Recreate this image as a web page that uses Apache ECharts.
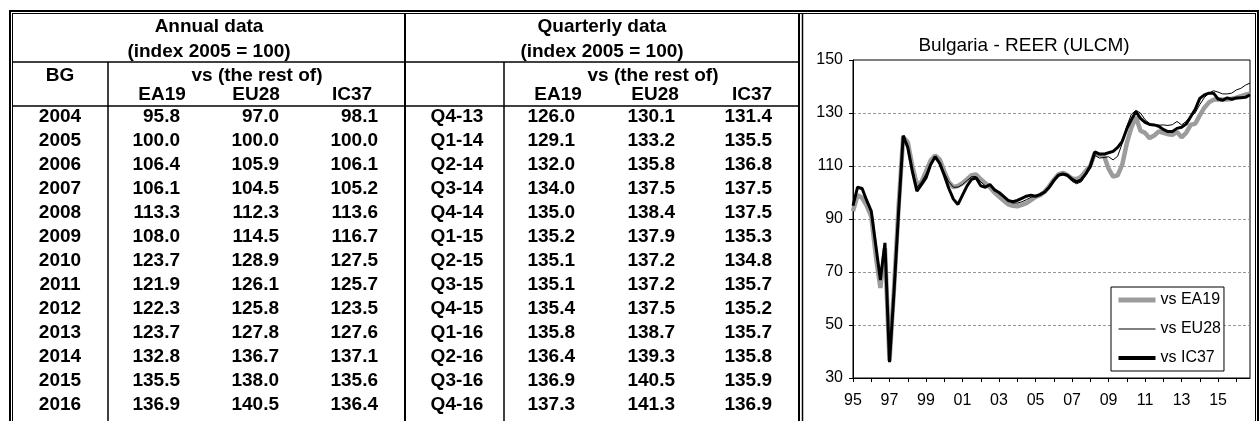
<!DOCTYPE html>
<html>
<head>
<meta charset="utf-8">
<script src="https://cdn.jsdelivr.net/npm/echarts@6/dist/echarts.min.js"></script>
<style>
  html, body { margin: 0; padding: 0; background: #fff; }
  #main { width: 1259px; height: 421px; }
</style>
</head>
<body>
<div id="main"></div>
<script>
// table: annual data (index 2005 = 100)
const annualYears = ['2004', '2005', '2006', '2007', '2008', '2009', '2010', '2011', '2012', '2013', '2014', '2015', '2016'];
const annualEA19 = [95.8, 100.0, 106.4, 106.1, 113.3, 108.0, 123.7, 121.9, 122.3, 123.7, 132.8, 135.5, 136.9];
const annualEU28 = [97.0, 100.0, 105.9, 104.5, 112.3, 114.5, 128.9, 126.1, 125.8, 127.8, 136.7, 138.0, 140.5];
const annualIC37 = [98.1, 100.0, 106.1, 105.2, 113.6, 116.7, 127.5, 125.7, 123.5, 127.6, 137.1, 135.6, 136.4];

// table: quarterly data
const quarterLabels = ['Q4-13', 'Q1-14', 'Q2-14', 'Q3-14', 'Q4-14', 'Q1-15', 'Q2-15', 'Q3-15', 'Q4-15', 'Q1-16', 'Q2-16', 'Q3-16', 'Q4-16'];
const quarterEA19 = [126.0, 129.1, 132.0, 134.0, 135.0, 135.2, 135.1, 135.1, 135.4, 135.8, 136.4, 136.9, 137.3];
const quarterEU28 = [130.1, 133.2, 135.8, 137.5, 138.4, 137.9, 137.2, 137.2, 137.5, 138.7, 139.3, 140.5, 141.3];
const quarterIC37 = [131.4, 135.5, 136.8, 137.5, 137.5, 135.3, 134.8, 135.7, 135.2, 135.7, 135.8, 135.9, 136.9];

// chart: quarterly REER (ULCM), 1995Q1 .. 2016Q4
const chartYears = ['95', '96', '97', '98', '99', '00', '01', '02', '03', '04', '05', '06', '07', '08', '09', '10', '11', '12', '13', '14', '15', '16'];
const reerEA19 = [
  93, 99, 98, 95,   91, 76, 64, 79,   36.5, 64, 95, 121,   119, 110, 103, 104,
  108, 112, 114, 112.5,   108, 104, 102, 102.5,   103.5, 105, 106.5, 106.8,   105, 103.5, 102, 100,
  98.5, 97, 95.5, 95,   94.8, 95.3, 96, 97.1,   98.3, 99, 100.3, 102.4,   104.8, 106.8, 107.4, 106.6,
  105.3, 105, 106, 108.1,   110, 115, 114.2, 114,   109, 106, 106.5, 110.5,   118.5, 124.5, 128.5, 123.3,
  122.5, 120.5, 121.5, 123.1,   122.5, 122, 121.8, 122.9,   120.8, 122.5, 125.5, 126.0,
  129.1, 132.0, 134.0, 135.0,   135.2, 135.1, 135.1, 135.4,   135.8, 136.4, 136.9, 137.3
];
const reerEU28 = [
  95.5, 102, 101, 97.5,   93, 79, 67, 80,   36.5, 64, 94, 121,   118, 109, 102, 104,
  107, 111, 113, 111.5,   107.5, 104, 102, 102,   103, 104.5, 106, 106,   104, 102.5, 103, 101.5,
  100, 98.5, 97, 96,   96, 96.5, 97.3, 98.2,   98.5, 99, 100.3, 102.2,   104.3, 106.3, 106.8, 106.2,
  104.2, 103.3, 104, 106.5,   109, 114, 113, 113.2,   113.5, 112.3, 113.7, 118.5,   125, 129.5, 131, 130,
  127.5, 126, 125.5, 125.4,   125.5, 125.3, 125.6, 126.8,   125.5, 126.8, 128.8, 130.1,
  133.2, 135.8, 137.5, 138.4,   137.9, 137.2, 137.2, 137.5,   138.7, 139.3, 140.5, 141.3
];
const reerIC37 = [
  95, 102, 101.5, 97,   93, 80, 67, 81,   36, 63, 93, 121.5,   117, 108, 100.5, 103,
  105.5, 110.5, 113.5, 111,   106.5, 101.5, 97.5, 95.5,   99, 102.5, 105, 105.5,   102.5, 102, 103, 101,
  100, 98.5, 97, 96.5,   97, 97.8, 98.6, 99,   98.6, 99.2, 100.2, 102,   104.5, 106.5, 107, 106.5,
  105, 104, 104.8, 107,   110, 115.3, 114.5, 114.5,   115, 115.5, 117, 119.3,   124, 127.5, 130.5, 128,
  126.5, 125.7, 125.5, 125,   123.8, 123, 123, 124.2,   124.6, 125.8, 128.6, 131.4,
  135.5, 136.8, 137.5, 137.5,   135.3, 134.8, 135.7, 135.2,   135.7, 135.8, 135.9, 136.9
];

const categories = [];
chartYears.forEach(y => { for (let q = 1; q <= 4; q++) categories.push(y + 'Q' + q); });

const FONT = '"Liberation Sans", Arial, sans-serif';
const bold = 'bold 19px ' + FONT;

function txt(text, x, y, align) {
  return {
    type: 'text', x: x, y: y, silent: true,
    style: {text: text, font: bold, fill: '#000', align: align || 'center', verticalAlign: 'middle'}
  };
}
function ln(x1, y1, x2, y2, w) {
  return {
    type: 'line', silent: true,
    shape: {x1: x1, y1: y1, x2: x2, y2: y2},
    style: {stroke: '#000', lineWidth: w || 1}
  };
}

const rowY = i => 116.5 + i * 24.05;
const graphics = [];

// borders
graphics.push(ln(9, 11, 1259, 11, 2));
graphics.push(ln(12, 13.5, 1256, 13.5, 1));
graphics.push(ln(10, 10, 10, 421, 2));
graphics.push(ln(12.5, 13, 12.5, 421, 1));
graphics.push(ln(799, 13, 799, 421, 2));
graphics.push(ln(802.5, 13, 802.5, 421, 1.5));
graphics.push(ln(1255.5, 13, 1255.5, 421, 1));
graphics.push(ln(1258, 10, 1258, 421, 2));
// inner table lines
graphics.push(ln(13, 62, 799, 62, 1.5));
graphics.push(ln(13, 106, 799, 106, 1.5));
graphics.push(ln(108, 62, 108, 421, 1.5));
graphics.push(ln(405, 13, 405, 421, 2));
graphics.push(ln(504, 62, 504, 421, 1.5));

// headers
graphics.push(txt('Annual data', 209, 27));
graphics.push(txt('(index 2005 = 100)', 209, 52));
graphics.push(txt('BG', 60, 76));
graphics.push(txt('vs (the rest of)', 257, 76));
graphics.push(txt('Quarterly data', 602, 27));
graphics.push(txt('(index 2005 = 100)', 602, 52));
graphics.push(txt('vs (the rest of)', 653, 76));
[['EA19', 162], ['EU28', 256], ['IC37', 352], ['EA19', 558], ['EU28', 655], ['IC37', 752]]
  .forEach(h => graphics.push(txt(h[0], h[1], 95)));

// rows
annualYears.forEach((yr, i) => {
  const y = rowY(i);
  graphics.push(txt(yr, 60, y));
  graphics.push(txt(annualEA19[i].toFixed(1), 180, y, 'right'));
  graphics.push(txt(annualEU28[i].toFixed(1), 279, y, 'right'));
  graphics.push(txt(annualIC37[i].toFixed(1), 378, y, 'right'));
});
quarterLabels.forEach((q, i) => {
  const y = rowY(i);
  graphics.push(txt(q, 457, y));
  graphics.push(txt(quarterEA19[i].toFixed(1), 575, y, 'right'));
  graphics.push(txt(quarterEU28[i].toFixed(1), 675, y, 'right'));
  graphics.push(txt(quarterIC37[i].toFixed(1), 772, y, 'right'));
});

const chart = echarts.init(document.getElementById('main'), null, {renderer: 'canvas'});

const option = {
  animation: false,
  backgroundColor: '#fff',
  textStyle: {fontFamily: FONT, color: '#000'},
  title: {
    text: 'Bulgaria - REER (ULCM)',
    left: 1019, top: 31, textAlign: 'center',
    textStyle: {fontSize: 19, fontWeight: 'normal', fontFamily: FONT, color: '#000'}
  },
  legend: {
    orient: 'vertical',
    left: 1111, top: 287,
    backgroundColor: '#fff',
    borderColor: '#000', borderWidth: 1, borderRadius: 0,
    padding: [5, 3, 5, 5],
    itemWidth: 37, itemHeight: 16, itemGap: 13,
    itemStyle: {opacity: 0},
    textStyle: {fontSize: 16, fontFamily: FONT, color: '#000'},
    data: [
      {name: 'vs EA19', lineStyle: {width: 5, color: '#9c9c9c'}},
      {name: 'vs EU28', lineStyle: {width: 1, color: '#000'}},
      {name: 'vs IC37', lineStyle: {width: 4, color: '#000'}}
    ]
  },
  grid: {
    left: 853, top: 60, right: 9, bottom: 43,
    show: true, borderColor: '#000', borderWidth: 1,
    containLabel: false
  },
  xAxis: {
    type: 'category',
    data: categories,
    boundaryGap: false,
    axisLine: {lineStyle: {color: '#000', width: 1}},
    axisTick: {show: true, interval: 3, length: 4, lineStyle: {color: '#000'}},
    axisLabel: {
      interval: 7, margin: 15, fontSize: 16, color: '#000', fontFamily: FONT,
      formatter: v => v.slice(0, 2)
    },
    splitLine: {show: false}
  },
  yAxis: {
    type: 'value',
    min: 30, max: 150, interval: 20,
    axisLine: {show: true, lineStyle: {color: '#000', width: 1}},
    axisTick: {show: true, length: 4, lineStyle: {color: '#000'}},
    axisLabel: {margin: 10, fontSize: 16, color: '#000', fontFamily: FONT},
    splitLine: {
      show: true, showMinLine: false, showMaxLine: false,
      lineStyle: {color: '#999', width: 1, type: [3, 2]}
    }
  },
  series: [
    {
      name: 'vs EA19', type: 'line', data: reerEA19,
      symbol: 'none', smooth: false, z: 2,
      lineStyle: {color: '#9c9c9c', width: 4.5}, itemStyle: {color: '#9c9c9c'}
    },
    {
      name: 'vs EU28', type: 'line', data: reerEU28,
      symbol: 'none', smooth: false, z: 4,
      lineStyle: {color: '#000', width: 1}, itemStyle: {color: '#000'}
    },
    {
      name: 'vs IC37', type: 'line', data: reerIC37,
      symbol: 'none', smooth: false, z: 3,
      lineStyle: {color: '#000', width: 3}, itemStyle: {color: '#000'}
    }
  ],
  graphic: graphics
};

chart.setOption(option);
</script>
</body>
</html>
